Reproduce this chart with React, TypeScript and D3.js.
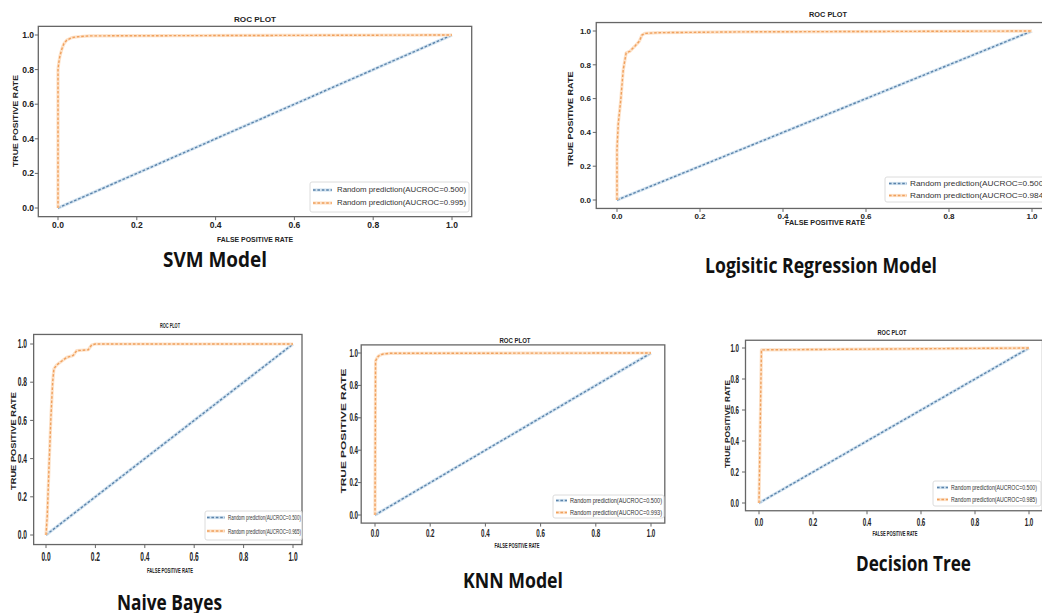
import React from 'react';
import * as d3 from 'd3';

// ---------- data ----------
const tickValues = [0, 0.2, 0.4, 0.6, 0.8, 1.0];
const tickLabels = ['0.0', '0.2', '0.4', '0.6', '0.8', '1.0'];

const diagFpr = [0, 1];
const diagTpr = [0, 1];

const svmFpr = [0, 0, 0.002, 0.005, 0.01, 0.015, 0.022, 0.035, 0.05, 0.08, 1];
const svmTpr = [0, 0.8, 0.84, 0.88, 0.92, 0.95, 0.97, 0.985, 0.99, 0.995, 1];

const lrFpr = [0, 0, 0.003, 0.009, 0.015, 0.022, 0.031, 0.043, 0.054, 0.06, 0.067, 0.1, 0.3, 1];
const lrTpr = [0, 0.3, 0.45, 0.59, 0.77, 0.87, 0.88, 0.91, 0.94, 0.976, 0.986, 0.99, 0.995, 1];

const nbFpr = [0, 0.005, 0.012, 0.02, 0.027, 0.032, 0.043, 0.063, 0.084, 0.11, 0.124, 0.171, 0.185, 0.2, 1];
const nbTpr = [0, 0.1, 0.35, 0.62, 0.8, 0.87, 0.89, 0.91, 0.93, 0.94, 0.965, 0.97, 0.995, 1, 1];

const knnFpr = [0, 0.002, 0.006, 0.012, 0.02, 0.03, 0.055, 1];
const knnTpr = [0, 0.95, 0.965, 0.98, 0.988, 0.994, 0.998, 1];

const dtFpr = [0, 0.009, 1];
const dtTpr = [0, 0.988, 1];

const randomAuc = '0.500';
const modelAucs = ['0.995', '0.984', '0.965', '0.993', '0.985'];
const modelNames = ['SVM Model', 'Logisitic Regression Model', 'Naive Bayes', 'KNN Model', 'Decision Tree'];
const plotTitle = 'ROC PLOT';
const xAxisLabel = 'FALSE POSITIVE RATE';
const yAxisLabel = 'TRUE POSITIVE RATE';
const legendPrefix = 'Random prediction(AUCROC=';

const modelFpr = [svmFpr, lrFpr, nbFpr, knnFpr, dtFpr];
const modelTpr = [svmTpr, lrTpr, nbTpr, knnTpr, dtTpr];

// ---------- layout (styling only) ----------
type Layout = {
  x0: number; x1: number; y0: number; y1: number; boxRight?: number;
  tickFs: number; tickSx: number; xTickBase: number; yTickRight: number;
  title: { x: number; y: number; w: number; fs: number };
  xlab: { x: number; y: number; w: number; fs: number };
  ylab: { x: number; y: number; len: number; fs: number };
  legend: { x: number; y: number; w: number; h: number; hx: number; hw: number; tx: number; tw: number; l1: number; l2: number; fs: number };
  caption: { x: number; y: number; w: number; fs: number };
};

const layouts: Layout[] = [
  {
    x0: 58, x1: 452, y0: 208, y1: 35,
    tickFs: 8.5, tickSx: 1, xTickBase: 228, yTickRight: 34,
    title: { x: 255, y: 22, w: 42, fs: 7.5 },
    xlab: { x: 255, y: 241.5, w: 76, fs: 7 },
    ylab: { x: 17.5, y: 121, len: 92, fs: 7 },
    legend: { x: 310, y: 182, w: 159, h: 30, hx: 313, hw: 19, tx: 337, tw: 129, l1: 190, l2: 203, fs: 7 },
    caption: { x: 163, y: 267, w: 104, fs: 21 },
  },
  {
    x0: 617, x1: 1032, y0: 200, y1: 31,
    tickFs: 8, tickSx: 1, xTickBase: 218.5, yTickRight: 591,
    title: { x: 828, y: 17, w: 38, fs: 7.5 },
    xlab: { x: 825, y: 224.5, w: 80, fs: 7 },
    ylab: { x: 572.5, y: 119, len: 95, fs: 7 },
    legend: { x: 885, y: 177, w: 170, h: 25, hx: 889, hw: 18, tx: 910, tw: 136, l1: 183.5, l2: 195.5, fs: 7 },
    caption: { x: 705, y: 273, w: 232, fs: 21 },
  },
  {
    x0: 46, x1: 293, y0: 535, y1: 344, boxRight: 302,
    tickFs: 12, tickSx: 0.55, xTickBase: 561, yTickRight: 27,
    title: { x: 170, y: 328, w: 20, fs: 8 },
    xlab: { x: 170, y: 573, w: 46, fs: 8 },
    ylab: { x: 16, y: 441, len: 98, fs: 7 },
    legend: { x: 205, y: 511, w: 97, h: 29, hx: 207, hw: 18, tx: 228, tw: 73, l1: 517.5, l2: 531, fs: 8 },
    caption: { x: 117, y: 610, w: 105, fs: 21 },
  },
  {
    x0: 375, x1: 651, y0: 515, y1: 353,
    tickFs: 10, tickSx: 0.62, xTickBase: 536.5, yTickRight: 358,
    title: { x: 515, y: 342.5, w: 31, fs: 7 },
    xlab: { x: 517, y: 547.5, w: 45, fs: 7 },
    ylab: { x: 345.5, y: 431, len: 125, fs: 6.5 },
    legend: { x: 553, y: 495, w: 111, h: 23, hx: 556, hw: 11, tx: 570, tw: 92, l1: 500.5, l2: 512.5, fs: 7 },
    caption: { x: 463, y: 588, w: 100, fs: 21 },
  },
  {
    x0: 759, x1: 1029, y0: 503, y1: 348,
    tickFs: 10, tickSx: 0.62, xTickBase: 525.5, yTickRight: 739,
    title: { x: 892, y: 334.5, w: 29, fs: 7 },
    xlab: { x: 895, y: 535.5, w: 45, fs: 7 },
    ylab: { x: 729.5, y: 424, len: 88, fs: 6.5 },
    legend: { x: 933, y: 481, w: 108, h: 25, hx: 937, hw: 11, tx: 951, tw: 86, l1: 487.5, l2: 499.5, fs: 7 },
    caption: { x: 856, y: 571, w: 115, fs: 21 },
  },
];

const BLUE = '#5b84ab';
const BLUE_HALO = '#d3e3f0';
const ORANGE = '#f0a15e';
const ORANGE_HALO = '#fde2c9';
const FRAME = '#666';
const TEXT = '#222';
const AX_FONT = '"Liberation Sans", Arial, sans-serif';

function DashedPath({ d, color, halo }: { d: string; color: string; halo: string }) {
  return (
    <g fill="none">
      <path d={d} stroke={halo} strokeWidth={3.2} strokeLinejoin="round" />
      <path d={d} stroke={color} strokeWidth={1.4} strokeDasharray="2.6,1.8" />
    </g>
  );
}

function Panel({ i }: { i: number }) {
  const L = layouts[i];
  const xs = d3.scaleLinear().domain([0, 1]).range([L.x0, L.x1]);
  const ys = d3.scaleLinear().domain([0, 1]).range([L.y0, L.y1]);
  const left = xs(-0.05);
  const right = L.boxRight ?? xs(1.05);
  const top = ys(1.05);
  const bottom = ys(-0.05);

  const line = d3.line<[number, number]>().x((d) => xs(d[0])).y((d) => ys(d[1]));
  const diag = line(diagFpr.map((f, k) => [f, diagTpr[k]] as [number, number])) || '';
  const roc = line(modelFpr[i].map((f, k) => [f, modelTpr[i][k]] as [number, number])) || '';

  const lg = L.legend;
  return (
    <g>
      <rect x={left} y={top} width={right - left} height={bottom - top} fill="#fff" stroke={FRAME} strokeWidth={1.3} />
      <DashedPath d={diag} color={BLUE} halo={BLUE_HALO} />
      <DashedPath d={roc} color={ORANGE} halo={ORANGE_HALO} />
      {tickValues.map((v, k) => (
        <g key={'x' + k}>
          <line x1={xs(v)} x2={xs(v)} y1={bottom} y2={bottom + 3.5} stroke={FRAME} strokeWidth={1} />
          <text
            transform={`translate(${xs(v)},${L.xTickBase}) scale(${L.tickSx},1)`}
            textAnchor="middle"
            fontSize={L.tickFs}
            fontWeight={700}
            fontFamily={AX_FONT}
            fill={TEXT}
          >
            {tickLabels[k]}
          </text>
        </g>
      ))}
      {tickValues.map((v, k) => (
        <g key={'y' + k}>
          <line x1={left - 3.5} x2={left} y1={ys(v)} y2={ys(v)} stroke={FRAME} strokeWidth={1} />
          <text
            transform={`translate(${L.yTickRight},${ys(v)}) scale(${L.tickSx},1)`}
            textAnchor="end"
            dy="0.35em"
            fontSize={L.tickFs}
            fontWeight={700}
            fontFamily={AX_FONT}
            fill={TEXT}
          >
            {tickLabels[k]}
          </text>
        </g>
      ))}
      <text
        x={L.title.x - L.title.w / 2}
        y={L.title.y}
        textLength={L.title.w}
        lengthAdjust="spacingAndGlyphs"
        fontSize={L.title.fs}
        fontWeight={700}
        fontFamily={AX_FONT}
        fill={TEXT}
      >
        {plotTitle}
      </text>
      <text
        x={L.xlab.x - L.xlab.w / 2}
        y={L.xlab.y}
        textLength={L.xlab.w}
        lengthAdjust="spacingAndGlyphs"
        fontSize={L.xlab.fs}
        fontWeight={700}
        fontFamily={AX_FONT}
        fill={TEXT}
      >
        {xAxisLabel}
      </text>
      <text
        transform={`translate(${L.ylab.x},${L.ylab.y + L.ylab.len / 2}) rotate(-90)`}
        x={0}
        y={0}
        textLength={L.ylab.len}
        lengthAdjust="spacingAndGlyphs"
        fontSize={L.ylab.fs}
        fontWeight={700}
        fontFamily={AX_FONT}
        fill={TEXT}
      >
        {yAxisLabel}
      </text>
      <rect x={lg.x} y={lg.y} width={lg.w} height={lg.h} rx={2} fill="#fff" fillOpacity={0.85} stroke="#d8d8d8" strokeWidth={0.9} />
      <DashedPath d={`M${lg.hx},${lg.l1}H${lg.hx + lg.hw}`} color={BLUE} halo={BLUE_HALO} />
      <DashedPath d={`M${lg.hx},${lg.l2}H${lg.hx + lg.hw}`} color={ORANGE} halo={ORANGE_HALO} />
      <text x={lg.tx} y={lg.l1} dy="0.35em" textLength={lg.tw} lengthAdjust="spacingAndGlyphs" fontSize={lg.fs} fontFamily={AX_FONT} fill="#333">
        {legendPrefix + randomAuc + ')'}
      </text>
      <text x={lg.tx} y={lg.l2} dy="0.35em" textLength={lg.tw} lengthAdjust="spacingAndGlyphs" fontSize={lg.fs} fontFamily={AX_FONT} fill="#333">
        {legendPrefix + modelAucs[i] + ')'}
      </text>
      <text
        x={L.caption.x}
        y={L.caption.y}
        textLength={L.caption.w}
        lengthAdjust="spacingAndGlyphs"
        fontSize={L.caption.fs}
        fontWeight={700}
        fontFamily='"Open Sans", Lato, sans-serif'
        fill="#111"
      >
        {modelNames[i]}
      </text>
    </g>
  );
}

export default function App() {
  return (
    <svg
      width={1042}
      height={613}
      style={{ position: 'absolute', left: 0, top: 0, background: '#fff' }}
    >
      <rect x={0} y={0} width={1042} height={613} fill="#fff" />
      {modelNames.map((_, i) => (
        <Panel key={i} i={i} />
      ))}
    </svg>
  );
}
